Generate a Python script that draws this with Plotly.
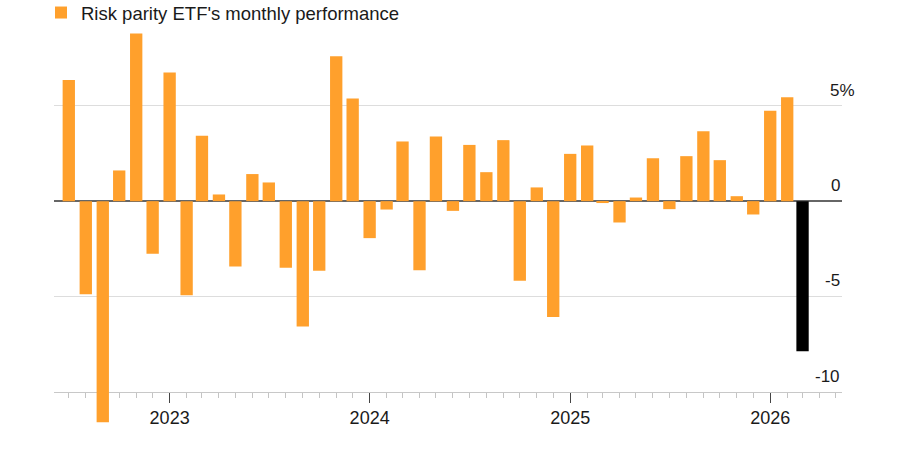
import plotly.graph_objects as go

months = [
    "2022-07-01", "2022-08-01", "2022-09-01", "2022-10-01", "2022-11-01", "2022-12-01",
    "2023-01-01", "2023-02-01", "2023-03-01", "2023-04-01", "2023-05-01", "2023-06-01",
    "2023-07-01", "2023-08-01", "2023-09-01", "2023-10-01", "2023-11-01", "2023-12-01",
    "2024-01-01", "2024-02-01", "2024-03-01", "2024-04-01", "2024-05-01", "2024-06-01",
    "2024-07-01", "2024-08-01", "2024-09-01", "2024-10-01", "2024-11-01", "2024-12-01",
    "2025-01-01", "2025-02-01", "2025-03-01", "2025-04-01", "2025-05-01", "2025-06-01",
    "2025-07-01", "2025-08-01", "2025-09-01", "2025-10-01", "2025-11-01", "2025-12-01",
    "2026-01-01", "2026-02-01", "2026-03-01",
]
monthly_return = [
    6.35, -4.88, -11.6, 1.61, 8.79, -2.76,
    6.75, -4.93, 3.43, 0.35, -3.43, 1.42,
    0.98, -3.5, -6.57, -3.65, 7.6, 5.38,
    -1.94, -0.44, 3.13, -3.62, 3.39, -0.51,
    2.95, 1.52, 3.2, -4.18, 0.72, -6.08,
    2.48, 2.92, -0.1, -1.12, 0.19, 2.25,
    -0.42, 2.36, 3.67, 2.15, 0.26, -0.7,
    4.74, 5.45, -7.87,
]
y_tick_values = [5, 0, -5, -10]
y_tick_labels = ["5%", "0", "-5", "-10"]
series_name = "Risk parity ETF's monthly performance"

ORANGE = "#ffa02c"
HIGHLIGHT = "#000000"
TEXT = "#1a1a1a"
FONT = "Liberation Sans, Arial, sans-serif"

Y_MIN, Y_MAX = -11.9, 9.03
AXIS_AT = -10

bar_colors = [ORANGE] * (len(monthly_return) - 1) + [HIGHLIGHT]

fig = go.Figure()
fig.add_trace(go.Bar(
    x=months,
    y=monthly_return,
    name=series_name,
    marker=dict(color=bar_colors, line=dict(width=0)),
    width=22.5 * 86400000,
    showlegend=True,
))

annotations = []
for v, lab in zip(y_tick_values, y_tick_labels):
    annotations.append(dict(
        x=1, xref="paper", y=v, yref="y", text=lab, showarrow=False,
        xanchor="right", yanchor="bottom", yshift=4,
        xshift=15 if lab.endswith("%") else 0,
        font=dict(size=17, color=TEXT, family=FONT),
    ))

fig.update_layout(
    width=900, height=453,
    margin=dict(l=54, r=58, t=29, b=25, autoexpand=False),
    paper_bgcolor="white", plot_bgcolor="white",
    font=dict(family=FONT, color=TEXT),
    showlegend=True,
    legend=dict(
        x=41 / 900, xref="container", xanchor="left",
        y=1 - 13 / 453, yref="container", yanchor="middle",
        font=dict(size=18.5, color=TEXT, family=FONT),
        itemwidth=30, bgcolor="rgba(0,0,0,0)",
    ),
    xaxis=dict(
        type="date",
        range=["2022-06-04", "2026-05-12"],
        anchor="free", position=(AXIS_AT - Y_MIN) / (Y_MAX - Y_MIN),
        showgrid=False, zeroline=False,
        showline=True, linecolor="#c8c8c8", linewidth=1,
        layer="below traces",
        ticks="outside", ticklen=10, tickcolor="#444444", tickwidth=1,
        dtick="M12", tick0="2023-01-01", tickformat="%Y",
        tickfont=dict(size=18, color=TEXT, family=FONT),
        minor=dict(ticks="outside", ticklen=5, dtick="M1", tick0="2022-01-01",
                   tickcolor="#c4c4c4", tickwidth=1, showgrid=False),
    ),
    yaxis=dict(
        range=[Y_MIN, Y_MAX],
        tickvals=[5, -5],
        showgrid=True, gridcolor="#dddddd", gridwidth=1,
        zeroline=True, zerolinecolor="#666666", zerolinewidth=1.5,
        showticklabels=False, ticks="",
    ),
    annotations=annotations,
)

fig.write_html(
    "out.html",
    config={"displayModeBar": False},
    post_script="document.body.style.margin='0';document.body.style.padding='0';",
)
